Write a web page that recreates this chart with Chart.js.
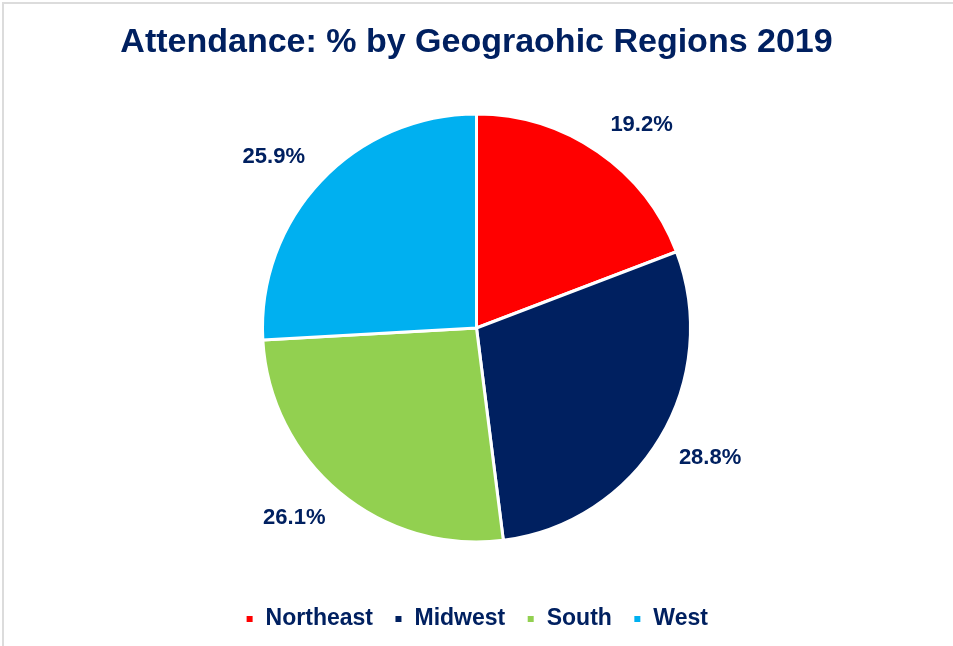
<!DOCTYPE html>
<html>
<head>
<meta charset="utf-8">
<script src="https://cdn.jsdelivr.net/npm/chart.js"></script>
<style>
  html, body { margin: 0; padding: 0; background: #fff; }
  #wrap { position: relative; width: 953px; height: 646px; }
  #frame { position: absolute; left: 2px; top: 2px; width: 951px; height: 644px;
           border-top: 2px solid #dcdcdc; border-left: 2px solid #dcdcdc; box-sizing: border-box; pointer-events: none; }
</style>
</head>
<body>
<div id="wrap">
  <canvas id="pieChart" width="953" height="646"></canvas>
  <div id="frame"></div>
</div>
<script>
const regions = ["Northeast", "Midwest", "South", "West"];
const attendancePct = [19.2, 28.8, 26.1, 25.9];
const sliceColors = ["#FF0000", "#002060", "#92D050", "#00B0F0"];

const navy = "#002060";
const fontFam = "'Liberation Sans', Arial, Helvetica, sans-serif";

// percentage labels just outside each slice (box corner touches anchor point)
const outsideLabels = {
  id: 'outsideLabels',
  afterDatasetsDraw(chart) {
    const ctx = chart.ctx;
    const meta = chart.getDatasetMeta(0);
    ctx.save();
    ctx.font = "bold 22px " + fontFam;
    ctx.fillStyle = navy;
    ctx.textAlign = 'center';
    ctx.textBaseline = 'middle';
    meta.data.forEach((arc, i) => {
      const p = arc.getProps(['x', 'y', 'startAngle', 'endAngle', 'outerRadius'], true);
      const mid = (p.startAngle + p.endAngle) / 2;
      const txt = attendancePct[i].toFixed(1) + "%";
      const hw = ctx.measureText(txt).width / 2;
      const hh = 9;
      const dx = Math.cos(mid), dy = Math.sin(mid);
      const dist = p.outerRadius + 22;
      const ax = p.x + dx * dist, ay = p.y + dy * dist;
      ctx.fillText(txt, ax + Math.sign(dx) * hw, ay + Math.sign(dy) * hh);
    });
    ctx.restore();
  }
};

const ctx = document.getElementById('pieChart').getContext('2d');
new Chart(ctx, {
  type: 'pie',
  data: {
    labels: regions,
    datasets: [{
      data: attendancePct,
      backgroundColor: sliceColors,
      borderColor: "#ffffff",
      borderWidth: 3,
      hoverOffset: 0,
      radius: 214
    }]
  },
  options: {
    responsive: false,
    animation: false,
    layout: { padding: { top: 0, bottom: 5.5, left: 0, right: 0 } },
    plugins: {
      title: {
        display: true,
        text: "Attendance: % by Geograohic Regions 2019",
        color: navy,
        font: { family: fontFam, size: 34, weight: 'bold' },
        padding: { top: 22, bottom: 6.7 }
      },
      legend: {
        display: true,
        position: 'bottom',
        labels: {
          color: navy,
          font: { family: fontFam, size: 23, weight: 'bold' },
          boxWidth: 9,
          boxHeight: 9,
          padding: 21
        }
      },
      tooltip: { enabled: false }
    }
  },
  plugins: [outsideLabels]
});
</script>
</body>
</html>
